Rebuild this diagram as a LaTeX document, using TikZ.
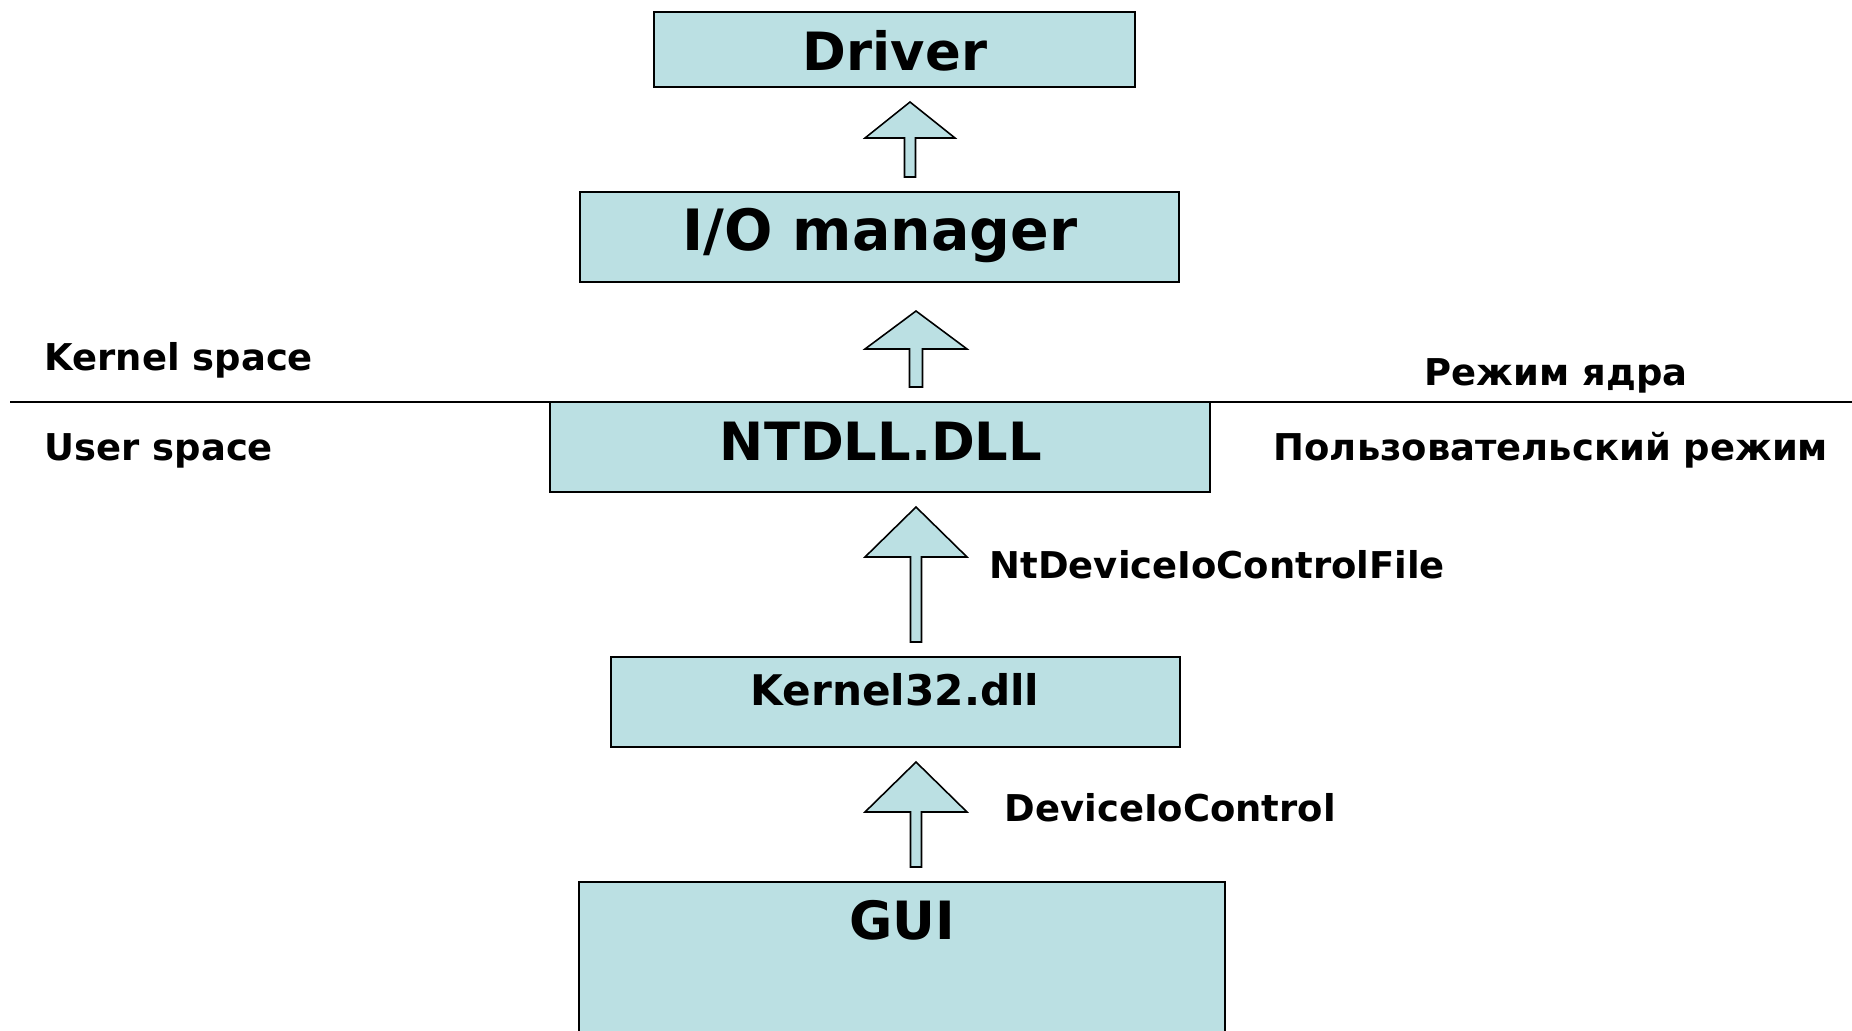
\documentclass[tikz,border=0pt]{standalone}
\usepackage{fontspec}
\setmainfont{DejaVu Sans}
\usepackage{tikz}
\usetikzlibrary{positioning}
\definecolor{boxColor}{HTML}{BBE0E3}
\tikzstyle{layers} = [x = .01cm, y = -.01cm]
\tikzstyle{boxStyle} = [draw=black, fill=boxColor, line width=.6pt]
\tikzstyle{arrowStyle} = [draw=black, fill=boxColor, line width=.45pt, line join=miter]
\tikzstyle{boxText} = [inner sep=0, anchor=base, font=\fontsize{15}{18}\selectfont\bfseries]
\tikzstyle{wideText} = [boxText, font=\fontsize{16.2}{19}\selectfont\bfseries]
\tikzstyle{dllText} = [boxText, font=\fontsize{12}{14}\selectfont\bfseries]
\tikzstyle{sideText} = [inner sep=0, anchor=base west, font=\fontsize{10.5}{12}\selectfont\bfseries]
\tikzstyle{borderLine} = [color=black, line width=.6pt]
\newcommand{\layerBox}[4]{\filldraw [boxStyle] (#1, #2) rectangle (#3, #4);}
\newcommand{\upArrow}[6]{\filldraw [arrowStyle] (#1 - #6, #4) -- (#1 - #6, #3) -- (#1 - #5, #3) -- (#1, #2) -- (#1 + #5, #3) -- (#1 + #6, #3) -- (#1 + #6, #4) -- cycle;}
\begin{document}
\begin{tikzpicture}[layers]
  \useasboundingbox (0, 0) rectangle (1852, 1030);
  % kernel / user border
  \draw [borderLine] (10, 402) -- (1852, 402);
  \node [sideText] (kernelSpace) at (44, 370) {Kernel space};
  \node [sideText] (userSpace) at (44, 460) {User space};
  \node [sideText] (kernelMode) at (1424, 385) {Режим ядра};
  \node [sideText] (userMode) at (1273, 460) {Пользовательский режим};

  \layerBox{654}{12}{1135}{87}
  \node [boxText] (driver) at (895, 70) {Driver};
  \upArrow{910}{102}{138}{177}{45}{5.5}

  \layerBox{580}{192}{1179}{282}
  \node [wideText] (ioManager) at (880, 250) {I/O manager};
  \upArrow{916}{311}{349}{387}{51}{6.5}

  \layerBox{550}{402}{1210}{492}
  \node [boxText] (ntdll) at (881, 460) {NTDLL.DLL};
  \upArrow{916}{507}{557}{642}{51}{5.5}
  \node [sideText] (ntCall) at (989, 578) {NtDeviceIoControlFile};

  \layerBox{611}{657}{1180}{747}
  \node [dllText] (kernel32) at (895, 705) {Kernel32.dll};
  \upArrow{916}{762}{812}{867}{51}{5.5}
  \node [sideText] (ioCall) at (1004, 821) {DeviceIoControl};

  \layerBox{579}{882}{1225}{1040}
  \node [boxText] (gui) at (902, 939) {GUI};
\end{tikzpicture}
\end{document}
